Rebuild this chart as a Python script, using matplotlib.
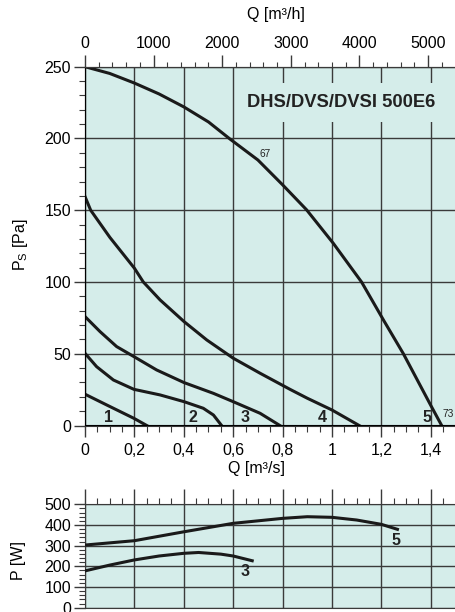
import matplotlib.pyplot as plt
from matplotlib.ticker import MultipleLocator, FuncFormatter

plt.rcParams['font.family'] = ['Liberation Sans', 'DejaVu Sans']
plt.rcParams['mathtext.fontset'] = 'custom'
plt.rcParams['mathtext.rm'] = 'Liberation Sans'

# pressure curves, Q [m3/s] vs Ps [Pa]
q1 = [0, 0.088, 0.198, 0.25]
p1 = [21.8, 14.3, 5, 0]
q2 = [0, 0.047, 0.115, 0.198, 0.304, 0.401, 0.479, 0.52, 0.553]
p2 = [50.3, 41, 31.7, 25.2, 21.3, 16.6, 12, 7.3, 0]
q3 = [0, 0.061, 0.128, 0.198, 0.29, 0.401, 0.52, 0.6, 0.709, 0.789]
p3 = [75.9, 65.4, 55, 48, 38.7, 29.9, 22.4, 16.6, 8.5, 0]
q4 = [0, 0.023, 0.101, 0.2, 0.236, 0.304, 0.401, 0.493, 0.6, 0.709, 0.83, 0.9, 1.0, 1.11]
p4 = [159.5, 150, 131, 109.6, 100, 87.5, 72.4, 59.6, 46.9, 36.4, 25.2, 19, 10.8, 0]
q5 = [0, 0.1, 0.2, 0.3, 0.4, 0.5, 0.587, 0.7, 0.8, 0.897, 1.005, 1.12, 1.208, 1.289, 1.4, 1.444]
p5 = [250, 245.3, 238.6, 231, 222, 211.5, 199.6, 185, 167.7, 150.3, 127, 99.9, 73.6, 50, 14, 0]

# power curves, Q [m3/s] vs P [W]
qw3 = [0, 0.1, 0.2, 0.3, 0.4, 0.46, 0.55, 0.6, 0.677]
pw3 = [178, 206, 231, 250, 263, 267, 259, 250, 227]
qw5 = [0, 0.2, 0.4, 0.6, 0.8, 0.9, 1.0, 1.1, 1.2, 1.265]
pw5 = [303, 324, 367, 408, 432, 440, 437, 424, 403, 379]

curve_labels = ['1', '2', '3', '4', '5']
label_q = [0.097, 0.436, 0.648, 0.962, 1.383]

bg = '#d5edea'
grid_c = '#3a3a3a'
line_c = '#1a1a1a'
fs = 11.5

fig = plt.figure(figsize=(4.55, 6.12), dpi=100)

''' Main pressure chart '''
ax = fig.add_axes([85/455, 1-425.5/612, 1-85/455, (425.5-66.7)/612])
ax.set_facecolor(bg)
for q, p in [(q1, p1), (q2, p2), (q3, p3), (q4, p4), (q5, p5)]:
    ax.plot(q, p, color=line_c, lw=2.2, solid_joinstyle='round', zorder=3)

ax.set_xlim(0, 1.498)
ax.set_ylim(0, 250)
ax.xaxis.set_major_locator(MultipleLocator(0.2))
ax.xaxis.set_minor_locator(MultipleLocator(0.05))
ax.yaxis.set_major_locator(MultipleLocator(50))
ax.yaxis.set_minor_locator(MultipleLocator(10))
ax.xaxis.set_major_formatter(FuncFormatter(lambda v, pos: f'{v:.1f}'.rstrip('0').rstrip('.').replace('.', ',')))
ax.grid(True, which='major', color=grid_c, lw=1.0)
ax.tick_params(axis='both', which='major', labelsize=fs, color=grid_c, direction='out')
ax.tick_params(axis='y', which='major', length=8, width=1.0, pad=2)
ax.tick_params(axis='y', which='minor', length=4, width=0.8, color=grid_c)
ax.tick_params(axis='x', which='major', length=8, width=1.0, pad=4.5)
ax.tick_params(axis='x', which='minor', length=4.3, width=0.8, color=grid_c)
ax.spines['right'].set_visible(False)
for s in ['left', 'bottom', 'top']:
    ax.spines[s].set_color(grid_c)

# m3/h scale on top
top = ax.twiny()
top.set_xlim(0, 1.498 * 3600)
top.xaxis.set_major_locator(MultipleLocator(1000))
top.xaxis.set_minor_locator(MultipleLocator(200))
top.tick_params(which='major', length=8.5, width=1.0, labelsize=fs, color=grid_c, pad=3)
top.tick_params(which='minor', length=3.6, width=0.8, color=grid_c)
top.spines['right'].set_visible(False)
top.spines['top'].set_color(grid_c)

ax.text(0.656, 224.9, 'DHS/DVS/DVSI 500E6', fontsize=13.2, fontweight='bold', color='#222222',
        ha='left', va='center', zorder=4,
        bbox=dict(boxstyle='square,pad=0.6', facecolor=bg, edgecolor='none'))

for lab, lq in zip(curve_labels, label_q):
    ax.text(lq, 5.7, lab, fontsize=fs, fontweight='bold', color='#222222', ha='center', va='center', zorder=4)
ax.text(1.471, 7.8, '73', fontsize=7.3, color='#222222', ha='center', va='center')
ax.text(0.729, 189.3, '67', fontsize=7.3, color='#222222', ha='center', va='center')

fig.text(276/455, 1-15/612, 'Q [m³/h]', fontsize=fs, ha='center', va='center')
fig.text(257/455, 1-469/612, 'Q [m³/s]', fontsize=fs, ha='center', va='center')
fig.text(20/455, 1-245/612, r'P$_{\rm S}$ [Pa]', fontsize=fs, rotation=90, ha='center', va='center')

''' Power chart '''
ax2 = fig.add_axes([85/455, 1-607.7/612, 1-85/455, (607.7-504.3)/612])
ax2.set_facecolor(bg)
ax2.plot(qw3, pw3, color=line_c, lw=2.2, solid_joinstyle='round', zorder=3)
ax2.plot(qw5, pw5, color=line_c, lw=2.2, solid_joinstyle='round', zorder=3)
ax2.set_xlim(0, 1.498)
ax2.set_ylim(0, 500)
ax2.xaxis.set_major_locator(MultipleLocator(0.2))
ax2.xaxis.set_minor_locator(MultipleLocator(0.05))
ax2.yaxis.set_major_locator(MultipleLocator(100))
ax2.yaxis.set_minor_locator(MultipleLocator(20))
ax2.grid(True, which='major', color=grid_c, lw=1.0)
ax2.xaxis.tick_top()
ax2.tick_params(axis='x', which='both', labeltop=False, labelbottom=False, color=grid_c, direction='out')
ax2.tick_params(axis='x', which='major', length=11, width=1.0)
ax2.tick_params(axis='x', which='minor', length=4.5, width=0.8)
ax2.tick_params(axis='y', which='major', length=8, width=1.0, labelsize=fs, color=grid_c, pad=2)
ax2.tick_params(axis='y', which='minor', length=4, width=0.8, color=grid_c)
ax2.spines['right'].set_visible(False)
for s in ['left', 'bottom', 'top']:
    ax2.spines[s].set_color(grid_c)
ax2.text(0.648, 174, '3', fontsize=fs, fontweight='bold', color='#222222', ha='center', va='center')
ax2.text(1.259, 327, '5', fontsize=fs, fontweight='bold', color='#222222', ha='center', va='center')

fig.text(18/455, 1-560/612, 'P [W]', fontsize=fs, rotation=90, ha='center', va='center')

fig.savefig('out.png', dpi=100)
